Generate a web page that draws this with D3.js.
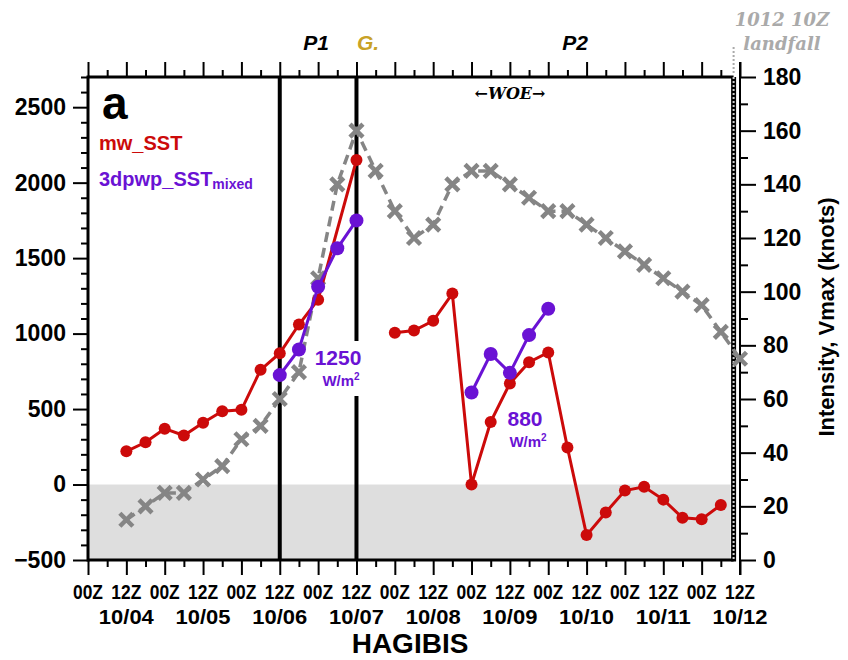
<!DOCTYPE html>
<html><head><meta charset="utf-8">
<script src="https://cdn.jsdelivr.net/npm/d3@7"></script>
<style>body{margin:0;background:#fff} svg{display:block}</style>
</head><body><svg id="c" width="848" height="660"></svg>
<script>
// ---------------- data ----------------
const intensityTimes = [
 "2019-10-04T12","2019-10-04T18",
 "2019-10-05T00","2019-10-05T06","2019-10-05T12","2019-10-05T18",
 "2019-10-06T00","2019-10-06T06","2019-10-06T12","2019-10-06T18",
 "2019-10-07T00","2019-10-07T06","2019-10-07T12","2019-10-07T18",
 "2019-10-08T00","2019-10-08T06","2019-10-08T12","2019-10-08T18",
 "2019-10-09T00","2019-10-09T06","2019-10-09T12","2019-10-09T18",
 "2019-10-10T00","2019-10-10T06","2019-10-10T12","2019-10-10T18",
 "2019-10-11T00","2019-10-11T06","2019-10-11T12","2019-10-11T18",
 "2019-10-12T00","2019-10-12T06","2019-10-12T12"];
const intensityKnots = [15,20, 25,25,30,35, 45,50,60,70, 105,140,160,145,
 130,120,125,140, 145,145,140,135, 130,130,125,120, 115,110,105,100, 95,85,75];

const mwTimes = [
 "2019-10-04T12","2019-10-04T18",
 "2019-10-05T00","2019-10-05T06","2019-10-05T12","2019-10-05T18",
 "2019-10-06T00","2019-10-06T06","2019-10-06T12","2019-10-06T18",
 "2019-10-07T00","2019-10-07T12","2019-10-07T18",
 "2019-10-08T00","2019-10-08T06","2019-10-08T12","2019-10-08T18",
 "2019-10-09T00","2019-10-09T06","2019-10-09T12","2019-10-09T18",
 "2019-10-10T00","2019-10-10T06","2019-10-10T12","2019-10-10T18",
 "2019-10-11T00","2019-10-11T06","2019-10-11T12","2019-10-11T18",
 "2019-10-12T00","2019-10-12T06"];
const mwValues = [220,280, 370,325,410,485, 495,760,870,1060, 1225,2150,null,
 1005,1020,1085,1265, 0,415,670,810, 875,245,-335,-185, -40,-15,-100,-220, -230,-135];

const pwpTimes = [
 "2019-10-06T12","2019-10-06T18","2019-10-07T00","2019-10-07T06","2019-10-07T12",
 "2019-10-08T00",
 "2019-10-09T00","2019-10-09T06","2019-10-09T12","2019-10-09T18","2019-10-10T00"];
const pwpValues = [725,895,1310,1565,1750, null, 610,865,740,990,1165];

const leftTicks = [-500,0,500,1000,1500,2000,2500];
const rightTicks = [0,20,40,60,80,100,120,140,160,180];
const hourTickTimes = ["2019-10-04T00","2019-10-04T12","2019-10-05T00","2019-10-05T12",
 "2019-10-06T00","2019-10-06T12","2019-10-07T00","2019-10-07T12","2019-10-08T00",
 "2019-10-08T12","2019-10-09T00","2019-10-09T12","2019-10-10T00","2019-10-10T12",
 "2019-10-11T00","2019-10-11T12","2019-10-12T00","2019-10-12T12"];
const hourLabels = ["00Z","12Z","00Z","12Z","00Z","12Z","00Z","12Z","00Z",
 "12Z","00Z","12Z","00Z","12Z","00Z","12Z","00Z","12Z"];
const dateTickTimes = ["2019-10-04T12","2019-10-05T12","2019-10-06T12","2019-10-07T12",
 "2019-10-08T12","2019-10-09T12","2019-10-10T12","2019-10-11T12","2019-10-12T12"];
const dateLabels = ["10/04","10/05","10/06","10/07","10/08","10/09","10/10","10/11","10/12"];
const phaseLines = ["2019-10-06T12","2019-10-07T12"];
const landfallTime = "2019-10-12T10";
const xStart = "2019-10-04T00", xEnd = "2019-10-12T12";

// ---------------- setup ----------------
const parse = d3.utcParse("%Y-%m-%dT%H");
const L = 88, R = 740, T = 77, B = 560;
const x = d3.scaleUtc().domain([parse(xStart), parse(xEnd)]).range([L, R]);
const yL = d3.scaleLinear().domain([-500, 2700]).range([B, T]);
const yR = d3.scaleLinear().domain([0, 180]).range([B, T]);
const xLand = x(parse(landfallTime));

const FONT = "'Liberation Sans', Arial, Helvetica, sans-serif";
const SERIF = "'DejaVu Serif', 'Liberation Serif', serif";
const RED = "#cc0a0a", PURPLE = "#6a12d4", GRAY = "#858585", GOLD = "#c9a227";

const svg = d3.select("#c").style("font-family", FONT);

// shading below zero
svg.append("rect").attr("x", L).attr("y", yL(0))
  .attr("width", xLand - L - 3).attr("height", yL(-500) - yL(0))
  .attr("fill", "#dedede");

// phase lines
svg.selectAll(".phase").data(phaseLines).join("line")
  .attr("x1", d => x(parse(d))).attr("x2", d => x(parse(d)))
  .attr("y1", T).attr("y2", B).attr("stroke", "#000").attr("stroke-width", 4);

// white box behind 1250 label
svg.append("rect").attr("x", 311).attr("y", 341).attr("width", 56).attr("height", 55).attr("fill", "#fff");

// ---------------- axes ----------------
const majorTimes = hourTickTimes.map(parse);
const minorTimes = d3.utcHour.every(6).range(parse(xStart), d3.utcHour.offset(parse(xEnd), 1))
  .filter(d => d.getUTCHours() % 12 !== 0);

function styleAxis(g) {
  g.select(".domain").remove();
  g.selectAll(".tick line").attr("stroke", "#000").attr("stroke-width", 2);
}
// bottom
svg.append("g").attr("transform", `translate(0,${B})`)
  .call(d3.axisBottom(x).tickValues(majorTimes).tickSize(15).tickFormat(""))
  .call(styleAxis);
svg.append("g").attr("transform", `translate(0,${B})`)
  .call(d3.axisBottom(x).tickValues(minorTimes).tickSize(7).tickFormat(""))
  .call(styleAxis);
// top
svg.append("g").attr("transform", `translate(0,${T})`)
  .call(d3.axisTop(x).tickValues(majorTimes).tickSize(15).tickFormat(""))
  .call(styleAxis);
svg.append("g").attr("transform", `translate(0,${T})`)
  .call(d3.axisTop(x).tickValues(minorTimes).tickSize(7).tickFormat(""))
  .call(styleAxis);
// left
svg.append("g").attr("transform", `translate(${L},0)`)
  .call(d3.axisLeft(yL).tickValues(leftTicks).tickSize(15).tickPadding(7).tickFormat(d3.format("d")))
  .call(styleAxis)
  .call(g => g.selectAll("text").attr("font-size", 23).attr("font-weight", "bold")
     .attr("fill", "#000").attr("font-family", FONT).text(d => d < 0 ? "\u2212" + Math.abs(d) : d));
svg.append("g").attr("transform", `translate(${L},0)`)
  .call(d3.axisLeft(yL).tickValues(d3.range(-400, 2701, 100).filter(v => v % 500 !== 0)).tickSize(7).tickFormat(""))
  .call(styleAxis);
// right
svg.append("g").attr("transform", `translate(${R},0)`)
  .call(d3.axisRight(yR).tickValues(rightTicks).tickSize(16).tickPadding(7).tickFormat(d3.format("d")))
  .call(styleAxis)
  .call(g => g.selectAll("text").attr("font-size", 23).attr("font-weight", "bold")
     .attr("fill", "#000").attr("font-family", FONT));
svg.append("g").attr("transform", `translate(${R},0)`)
  .call(d3.axisRight(yR).tickValues(d3.range(10, 180, 20)).tickSize(8).tickFormat(""))
  .call(styleAxis);

// bottom tick labels
svg.selectAll(".hl").data(hourTickTimes).join("text")
  .attr("x", d => x(parse(d))).attr("y", 599)
  .attr("text-anchor", "middle").attr("font-size", 20).attr("font-weight", "bold")
  .attr("textLength", 30).attr("lengthAdjust", "spacingAndGlyphs")
  .text((d, i) => hourLabels[i]);
svg.selectAll(".dl").data(dateTickTimes).join("text")
  .attr("x", d => x(parse(d))).attr("y", 624)
  .attr("text-anchor", "middle").attr("font-size", 21).attr("font-weight", "bold")
  .attr("textLength", 55).attr("lengthAdjust", "spacingAndGlyphs")
  .text((d, i) => dateLabels[i]);
svg.append("text").attr("x", 410).attr("y", 653).attr("text-anchor", "middle")
  .attr("font-size", 28).attr("font-weight", "bold").text("HAGIBIS");

// right axis title
svg.append("text").attr("transform", `translate(834,317) rotate(-90)`)
  .attr("text-anchor", "middle").attr("font-size", 22).attr("font-weight", "bold")
  .text("Intensity, Vmax (knots)");

// frame lines
svg.append("line").attr("x1", L).attr("x2", L).attr("y1", T - 1.5).attr("y2", B + 1.5).attr("stroke", "#000").attr("stroke-width", 3);
svg.append("line").attr("x1", L).attr("x2", xLand).attr("y1", T).attr("y2", T).attr("stroke", "#000").attr("stroke-width", 3);
svg.append("line").attr("x1", L).attr("x2", xLand).attr("y1", B).attr("y2", B).attr("stroke", "#000").attr("stroke-width", 3);
svg.append("line").attr("x1", R).attr("x2", R).attr("y1", T - 15).attr("y2", B + 15).attr("stroke", "#000").attr("stroke-width", 2);
// landfall line
svg.append("line").attr("x1", xLand).attr("x2", xLand).attr("y1", T).attr("y2", B + 1.5)
  .attr("stroke", "#000").attr("stroke-width", 5);
svg.append("line").attr("x1", xLand).attr("x2", xLand).attr("y1", T).attr("y2", B)
  .attr("stroke", "#cfcfcf").attr("stroke-width", 2).attr("stroke-dasharray", "2,2");
svg.append("line").attr("x1", xLand).attr("x2", xLand).attr("y1", 47).attr("y2", T - 2)
  .attr("stroke", "#aaa").attr("stroke-width", 2).attr("stroke-dasharray", "2,2");

// ---------------- series ----------------
// intensity (right axis)
const intData = intensityTimes.map((t, i) => ({t: parse(t), v: intensityKnots[i]}));
svg.append("path").datum(intData)
  .attr("d", d3.line().x(d => x(d.t)).y(d => yR(d.v)))
  .attr("fill", "none").attr("stroke", GRAY).attr("stroke-width", 3.5).attr("stroke-dasharray", "10,6");
const xs = 6.5;
svg.selectAll(".xm").data(intData).join("path")
  .attr("d", d => { const cx = x(d.t), cy = yR(d.v);
    return `M${cx - xs},${cy - xs}L${cx + xs},${cy + xs}M${cx - xs},${cy + xs}L${cx + xs},${cy - xs}`; })
  .attr("stroke", GRAY).attr("stroke-width", 4.5).attr("fill", "none");

// mw_SST
const mwData = mwTimes.map((t, i) => ({t: parse(t), v: mwValues[i]}));
svg.append("path").datum(mwData)
  .attr("d", d3.line().defined(d => d.v !== null).x(d => x(d.t)).y(d => yL(d.v)))
  .attr("fill", "none").attr("stroke", RED).attr("stroke-width", 3);
svg.selectAll(".rd").data(mwData.filter(d => d.v !== null)).join("circle")
  .attr("cx", d => x(d.t)).attr("cy", d => yL(d.v)).attr("r", 6).attr("fill", RED);

// 3dpwp_SST_mixed
const pwpData = pwpTimes.map((t, i) => ({t: parse(t), v: pwpValues[i]}));
svg.append("path").datum(pwpData)
  .attr("d", d3.line().defined(d => d.v !== null).x(d => x(d.t)).y(d => yL(d.v)))
  .attr("fill", "none").attr("stroke", PURPLE).attr("stroke-width", 3);
svg.selectAll(".pd").data(pwpData.filter(d => d.v !== null)).join("circle")
  .attr("cx", d => x(d.t)).attr("cy", d => yL(d.v)).attr("r", 7).attr("fill", PURPLE);

// ---------------- annotations ----------------
svg.append("text").attr("x", 102).attr("y", 119).attr("font-size", 46).attr("font-weight", "bold").text("a");
svg.append("text").attr("x", 99).attr("y", 150).attr("font-size", 20).attr("font-weight", "bold")
  .attr("fill", RED).text("mw_SST");
const lg = svg.append("text").attr("x", 99).attr("y", 186).attr("font-size", 20).attr("font-weight", "bold")
  .attr("fill", PURPLE);
lg.append("tspan").text("3dpwp_SST");
lg.append("tspan").attr("font-size", 14).attr("dy", 3).text("mixed");

function wLabel(cx, y, num) {
  svg.append("text").attr("x", cx).attr("y", y).attr("text-anchor", "middle")
    .attr("font-size", 21).attr("font-weight", "bold").attr("fill", PURPLE).text(num);
  const t = svg.append("text").attr("x", cx + 3).attr("y", y + 21).attr("text-anchor", "middle")
    .attr("font-size", 15).attr("font-weight", "bold").attr("fill", PURPLE);
  t.append("tspan").text("W/m");
  t.append("tspan").attr("font-size", 10).attr("dy", -6).text("2");
}
wLabel(338, 365, "1250");
wLabel(525, 426, "880");

svg.append("text").attr("x", 316).attr("y", 50).attr("text-anchor", "middle")
  .attr("font-size", 21).attr("font-weight", "bold").attr("font-style", "italic").text("P1");
svg.append("text").attr("x", 368).attr("y", 50).attr("text-anchor", "middle")
  .attr("font-size", 21).attr("font-weight", "bold").attr("font-style", "italic").attr("fill", GOLD).text("G.");
svg.append("text").attr("x", 575).attr("y", 50).attr("text-anchor", "middle")
  .attr("font-size", 21).attr("font-weight", "bold").attr("font-style", "italic").text("P2");
svg.append("text").attr("x", 510).attr("y", 99).attr("text-anchor", "middle")
  .attr("font-size", 16).attr("font-weight", "bold").attr("font-style", "italic")
  .attr("font-family", SERIF).text("\u2190WOE\u2192");
svg.append("text").attr("x", 782).attr("y", 26).attr("text-anchor", "middle")
  .attr("font-size", 18).attr("font-weight", "bold").attr("font-style", "italic")
  .attr("font-family", SERIF).attr("fill", "#aaa").text("1012 10Z");
svg.append("text").attr("x", 782).attr("y", 50).attr("text-anchor", "middle")
  .attr("font-size", 18).attr("font-weight", "bold").attr("font-style", "italic")
  .attr("font-family", SERIF).attr("fill", "#aaa").text("landfall");
</script></body></html>
